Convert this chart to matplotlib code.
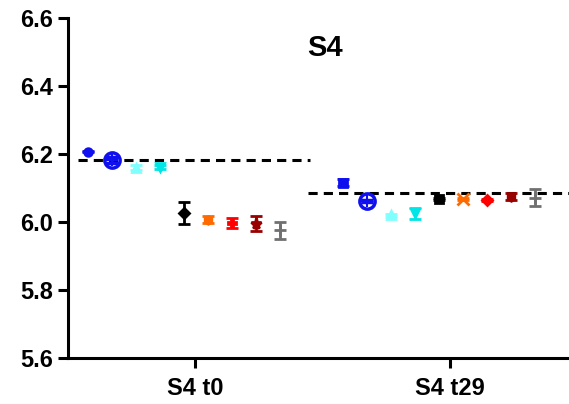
import matplotlib
matplotlib.use("Agg")
import matplotlib.pyplot as plt

plt.rcParams['font.family'] = ['Liberation Sans', 'DejaVu Sans']
plt.rcParams['font.weight'] = 'bold'

groups = ['S4 t0', 'S4 t29']
colors = ['#1010ee', '#1010ee', '#80ffff', '#00e5e5', '#000000',
          '#ff6a00', '#ff0000', '#990000', '#707070']
t0_markers = ['o', 'o', '^', 'v', 'D', 'h', 'P', '*', '+']
t29_markers = ['s', 'o', '^', 'v', 's', 'x', 'D', 'h', '+']
t0_vals = [6.207, 6.182, 6.160, 6.162, 6.027, 6.007, 5.996, 5.995, 5.975]
t0_errs = [0.002, 0.008, 0.008, 0.006, 0.033, 0.010, 0.015, 0.022, 0.025]
t29_vals = [6.115, 6.062, 6.020, 6.026, 6.068, 6.068, 6.065, 6.074, 6.072]
t29_errs = [0.010, 0.004, 0.004, 0.016, 0.004, 0.003, 0.003, 0.010, 0.025]
group_means = [6.182, 6.086]

fig = plt.figure(figsize=(5.69, 4.04), dpi=100)
ax = fig.add_axes([0.1195, 0.1139, 0.8805, 0.8416])

for g, (vals, errs, mks) in enumerate([(t0_vals, t0_errs, t0_markers),
                                       (t29_vals, t29_errs, t29_markers)]):
    for i in range(len(vals)):
        x = g - 0.42 + i * 0.094
        m = mks[i]
        big = (i == 1)
        ax.errorbar(x, vals[i], yerr=errs[i], fmt=m, color=colors[i],
                    markersize=11 if big else (8 if m in ('+', '*', 'x') else 5.5),
                    mfc='none' if big else colors[i], mew=2.5 if big else 2,
                    elinewidth=2, capsize=4, capthick=2, zorder=3)
        if big:
            ax.plot(x, vals[i], marker='+', color=colors[i], markersize=8,
                    mew=1.5, zorder=4)

ax.plot([-0.46, 0.45], [group_means[0]] * 2, ls=(0, (3, 2)), color='black', lw=2.2, zorder=2)
ax.plot([0.443, 1.47], [group_means[1]] * 2, ls=(0, (3, 2)), color='black', lw=2.2, zorder=2)

ax.set_xlim(-0.5, 1.467)
ax.set_ylim(5.6, 6.6)
ax.set_yticks([5.6, 5.8, 6.0, 6.2, 6.4, 6.6])
ax.set_yticklabels(['5.6', '5.8', '6.0', '6.2', '6.4', '6.6'])
ax.set_xticks([0, 1])
ax.set_xticklabels(groups)
ax.tick_params(axis='both', labelsize=17, width=2.2, length=7)
ax.tick_params(axis='x', pad=7)
ax.tick_params(axis='y', pad=4)
for s in ['top', 'right']:
    ax.spines[s].set_visible(False)
for s in ['left', 'bottom']:
    ax.spines[s].set_linewidth(2.2)
ax.set_title('S4', fontsize=21, fontweight='bold', x=0.513, y=0.865)

fig.savefig('out.png', dpi=100)
